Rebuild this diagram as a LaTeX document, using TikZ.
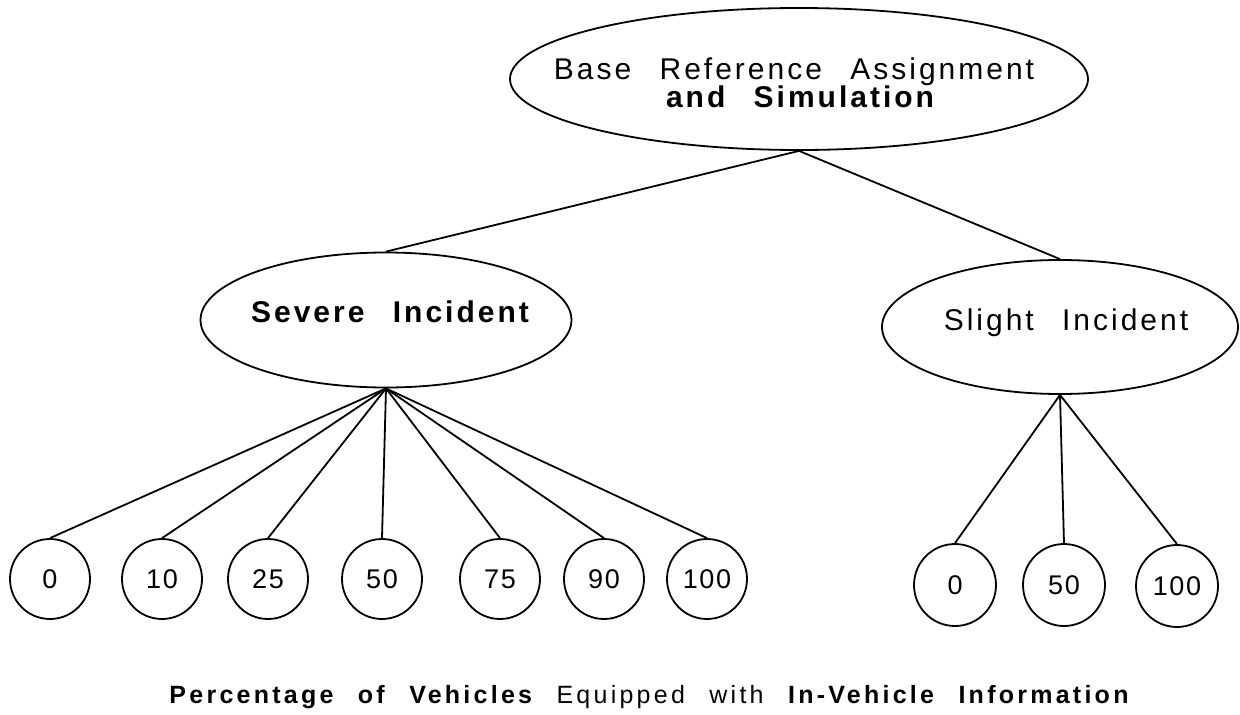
\documentclass[tikz,border=0pt]{standalone}
\usepackage{fontspec}
\setmainfont{Liberation Sans}
\newfontfamily\tfont[LetterSpace=10,WordSpace=2.5]{Liberation Sans}
\newfontfamily\ffont[LetterSpace=13,WordSpace=2.4]{Liberation Sans}
\newfontfamily\cfont[LetterSpace=6]{Liberation Sans}
\usetikzlibrary{shapes.geometric}
\begin{document}
\begin{tikzpicture}[x=1pt,y=-1pt,line width=1.8pt,
  ell/.style={draw, ellipse, inner sep=0pt},
  pct/.style={draw, circle, minimum size=80pt, inner sep=0pt, font=\cfont\fontsize{27}{27}\selectfont},
  lbl/.style={inner sep=0pt, anchor=base},
  big/.style={font=\tfont\fontsize{30}{30}\selectfont},
  bigb/.style={font=\tfont\bfseries\fontsize{30}{30}\selectfont},
  foot/.style={font=\ffont\fontsize{25}{25}\selectfont},
  link/.style={line width=1.8pt}]
\useasboundingbox (0,0) rectangle (1240,715);
% ellipses
\node[ell, minimum width=578pt, minimum height=142pt] (top) at (799,79) {};
\node[ell, minimum width=371pt, minimum height=135pt] (sev) at (386,320) {};
\node[ell, minimum width=356pt, minimum height=134pt] (sli) at (1060,327) {};
% labels
\node[lbl, big] (t1) at (794,79) {Base Reference Assignment};
\node[lbl, bigb] (t2) at (800,107) {and Simulation};
\node[lbl, bigb] (t3) at (390,322) {Severe Incident};
\node[lbl, big] (t4) at (1066,330) {Slight Incident};
% circles
\node[pct] (s0) at (50,579) {0};
\node[pct] (s10) at (162,579) {10};
\node[pct] (s25) at (268,579) {25};
\node[pct] (s50) at (382,579) {50};
\node[pct] (s75) at (500,579) {75};
\node[pct] (s90) at (604,579) {90};
\node[pct] (s100) at (707,579) {100};
\node[pct, minimum size=82pt] (l0) at (955,585) {0};
\node[pct, minimum size=82pt] (l50) at (1064,585) {50};
\node[pct, minimum size=82pt] (l100) at (1177,586) {100};
% connectors
\draw[link] (top.south) -- (sev.north);
\draw[link] (top.south) -- (sli.north);
\foreach \c in {s0,s10,s25,s50,s75,s90,s100}{\draw[link] (sev.south) -- (\c.north);}
\foreach \c in {l0,l50,l100}{\draw[link] (sli.south) -- (\c.north);}
% footer
\node[lbl, foot] (ft) at (649,703) {\bfseries Percentage of Vehicles \mdseries Equipped with \bfseries In-Vehicle Information};
\end{tikzpicture}
\end{document}
